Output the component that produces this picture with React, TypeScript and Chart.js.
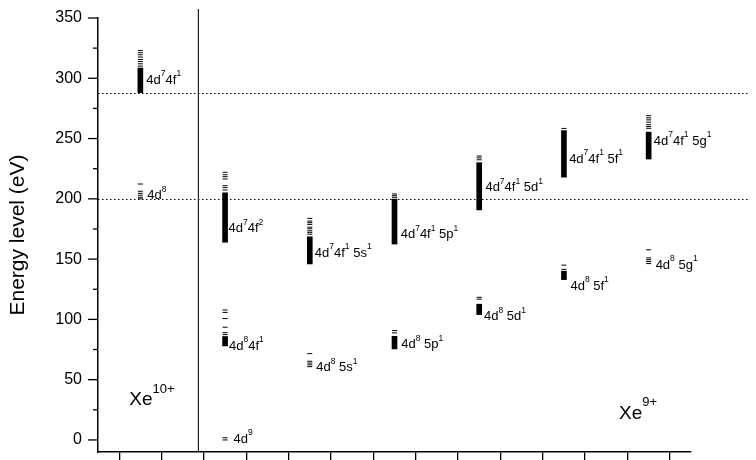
import React, { useEffect, useRef } from 'react';
import { Chart, registerables } from 'chart.js';

Chart.register(...registerables);

const FONT = '"Liberation Sans", Arial, sans-serif';

// x positions of the configuration columns
const COLUMNS = [1, 3, 5, 7, 9, 11, 13];
const SEPARATOR_X = 2.37;
const X_TICKS = [0, 1, 2, 3, 4, 5, 6, 7, 8, 9, 10, 11, 12, 13, 14];
const Y_TICKS = [0, 50, 100, 150, 200, 250, 300, 350];
const Y_MINOR_TICKS = [25, 75, 125, 175, 225, 275, 325];
// ionization limits (dotted lines), eV
const IONIZATION_LINES = [287.7, 199.6];

// ---- Xe10+ ----
const xe10_4d74f1_levels = [310.1, 312.0, 313.9, 315.6, 317.6, 319.5, 321.2, 323.0];
const xe10_4d74f1_band = [288, 308.5];
const xe10_4d8_levels = [200.0, 201.3, 203.0, 204.6, 206.3, 212.3];

// ---- Xe9+ ----
const xe9_4d9_levels = [0, 1.8];
const xe9_4d84f1_levels = [87.4, 89.0, 93.5, 100.7, 105.8, 107.8];
const xe9_4d84f1_band = [78, 85.8];
const xe9_4d74f2_levels = [207.3, 209.3, 210.9, 216.5, 218.4, 220.0, 222.0];
const xe9_4d74f2_band = [164, 205];
const xe9_4d8_5s_levels = [60.8, 62.3, 63.8, 65.3, 71.6];
const xe9_4d74f1_5s_levels = [170.7, 172.2, 173.5, 175.2, 176.5, 178.8, 180.2, 181.5, 183.8];
const xe9_4d74f1_5s_band = [146, 168.5];
const xe9_4d8_5p_levels = [88.8, 90.7];
const xe9_4d8_5p_band = [75.5, 86];
const xe9_4d74f1_5p_levels = [201.3, 202.6, 204.0];
const xe9_4d74f1_5p_band = [162.5, 199.8];
const xe9_4d8_5d_levels = [116.8, 118.3];
const xe9_4d8_5d_band = [104, 112.6];
const xe9_4d74f1_5d_levels = [232.4, 234.0, 235.5];
const xe9_4d74f1_5d_band = [190.8, 230];
const xe9_4d8_5f_levels = [141.5, 145.0];
const xe9_4d8_5f_band = [133, 140];
const xe9_4d74f1_5f_levels = [258.4];
const xe9_4d74f1_5f_band = [218, 256.6];
const xe9_4d8_5g_levels = [146.3, 148.0, 149.5, 151.0, 157.7];
const xe9_4d74f1_5g_levels = [258.5, 260.0, 261.5, 263.6, 265.5, 267.2, 269.0];
const xe9_4d74f1_5g_band = [233, 255.3];

type Seg = [string, string];
interface Group {
  col: number;
  levels: number[];
  band?: number[];
  label: Seg[];
  labelY: number;
  dx: number;
}

const GROUPS: Group[] = [
  { col: COLUMNS[0], levels: xe10_4d74f1_levels, band: xe10_4d74f1_band, label: [['4d', '7'], ['4f', '1']], labelY: 299.2, dx: 6 },
  { col: COLUMNS[0], levels: xe10_4d8_levels, label: [['4d', '8']], labelY: 203.4, dx: 7 },
  { col: COLUMNS[1], levels: xe9_4d9_levels, label: [['4d', '9']], labelY: 1.4, dx: 8.5 },
  { col: COLUMNS[1], levels: xe9_4d84f1_levels, band: xe9_4d84f1_band, label: [['4d', '8'], ['4f', '1']], labelY: 78.7, dx: 4 },
  { col: COLUMNS[1], levels: xe9_4d74f2_levels, band: xe9_4d74f2_band, label: [['4d', '7'], ['4f', '2']], labelY: 176.3, dx: 3.5 },
  { col: COLUMNS[2], levels: xe9_4d8_5s_levels, label: [['4d', '8'], [' 5s', '1']], labelY: 60.7, dx: 6.5 },
  { col: COLUMNS[2], levels: xe9_4d74f1_5s_levels, band: xe9_4d74f1_5s_band, label: [['4d', '7'], ['4f', '1'], [' 5s', '1']], labelY: 156, dx: 5 },
  { col: COLUMNS[3], levels: xe9_4d8_5p_levels, band: xe9_4d8_5p_band, label: [['4d', '8'], [' 5p', '1']], labelY: 79.8, dx: 6.8 },
  { col: COLUMNS[3], levels: xe9_4d74f1_5p_levels, band: xe9_4d74f1_5p_band, label: [['4d', '7'], ['4f', '1'], [' 5p', '1']], labelY: 171.4, dx: 6.2 },
  { col: COLUMNS[4], levels: xe9_4d8_5d_levels, band: xe9_4d8_5d_band, label: [['4d', '8'], [' 5d', '1']], labelY: 103.3, dx: 4.8 },
  { col: COLUMNS[4], levels: xe9_4d74f1_5d_levels, band: xe9_4d74f1_5d_band, label: [['4d', '7'], ['4f', '1'], [' 5d', '1']], labelY: 210.2, dx: 6.2 },
  { col: COLUMNS[5], levels: xe9_4d8_5f_levels, band: xe9_4d8_5f_band, label: [['4d', '8'], [' 5f', '1']], labelY: 128.5, dx: 6.5 },
  { col: COLUMNS[5], levels: xe9_4d74f1_5f_levels, band: xe9_4d74f1_5f_band, label: [['4d', '7'], ['4f', '1'], [' 5f', '1']], labelY: 233.8, dx: 5.2 },
  { col: COLUMNS[6], levels: xe9_4d8_5g_levels, label: [['4d', '8'], [' 5g', '1']], labelY: 145.7, dx: 7 },
  { col: COLUMNS[6], levels: xe9_4d74f1_5g_levels, band: xe9_4d74f1_5g_band, label: [['4d', '7'], ['4f', '1'], [' 5g', '1']], labelY: 248.7, dx: 5.2 },
];

const ION_LABELS = [
  { base: 'Xe', sup: '10+', x: 0.74, y: 34.5 },
  { base: 'Xe', sup: '9+', x: 12.3, y: 23 },
];

function drawSupText(ctx: CanvasRenderingContext2D, x: number, cy: number, segs: Seg[], size: number, supSize: number, supRaise: number) {
  let cx = x;
  const baseBaseline = cy + size * 0.358;
  const supBaseline = cy - supRaise;
  for (const [b, s] of segs) {
    ctx.font = `${size}px ${FONT}`;
    ctx.fillText(b, cx, baseBaseline);
    cx += ctx.measureText(b).width;
    ctx.font = `${supSize}px ${FONT}`;
    ctx.fillText(s, cx, supBaseline);
    cx += ctx.measureText(s).width;
  }
}

const decor = {
  id: 'decor',
  beforeDatasetsDraw(chart: any) {
    const { ctx, chartArea, scales } = chart;
    const x = scales.x;
    const y = scales.y;
    ctx.save();
    ctx.strokeStyle = '#000';
    ctx.lineWidth = 1.2;
    ctx.setLineDash([1.5, 2.5]);
    for (const v of IONIZATION_LINES) {
      const py = Math.round(y.getPixelForValue(v)) + 0.5;
      ctx.beginPath();
      ctx.moveTo(chartArea.left, py);
      ctx.lineTo(750, py);
      ctx.stroke();
    }
    ctx.setLineDash([]);
    const sx = x.getPixelForValue(SEPARATOR_X);
    ctx.strokeStyle = '#222';
    ctx.lineWidth = 1.2;
    ctx.beginPath();
    ctx.moveTo(sx, 9);
    ctx.lineTo(sx, chartArea.bottom);
    ctx.stroke();
    ctx.restore();
  },
  afterDraw(chart: any) {
    const { ctx, chartArea, scales } = chart;
    const x = scales.x;
    const y = scales.y;
    ctx.save();
    // y-axis tick marks
    ctx.strokeStyle = '#000';
    ctx.lineWidth = 1.3;
    const ax = chartArea.left;
    for (const v of Y_TICKS) {
      const py = y.getPixelForValue(v);
      ctx.beginPath();
      ctx.moveTo(ax - 10, py);
      ctx.lineTo(ax, py);
      ctx.stroke();
    }
    for (const v of Y_MINOR_TICKS) {
      const py = y.getPixelForValue(v);
      ctx.beginPath();
      ctx.moveTo(ax - 5, py);
      ctx.lineTo(ax, py);
      ctx.stroke();
    }
    // configuration labels
    ctx.fillStyle = '#000';
    ctx.textAlign = 'left';
    ctx.textBaseline = 'alphabetic';
    for (const g of GROUPS) {
      const px = x.getPixelForValue(g.col) + g.dx;
      const py = y.getPixelForValue(g.labelY);
      drawSupText(ctx, px, py, g.label, 13, 8.5, 2.8);
    }
    // ion labels
    for (const l of ION_LABELS) {
      const px = x.getPixelForValue(l.x);
      const py = y.getPixelForValue(l.y);
      drawSupText(ctx, px, py, [[l.base, l.sup]], 19, 13, 5.8);
    }
    ctx.restore();
  },
};

export default function App() {
  const ref = useRef<HTMLCanvasElement | null>(null);

  useEffect(() => {
    if (!ref.current) return;
    const bands: { x: number; y: number[] }[] = [];
    const levels: { x: number; y: number }[] = [];
    for (const g of GROUPS) {
      if (g.band) bands.push({ x: g.col, y: g.band });
      for (const v of g.levels) levels.push({ x: g.col, y: v });
    }
    const chart = new Chart(ref.current, {
      type: 'bar',
      data: {
        datasets: [
          {
            type: 'bar',
            label: 'bands',
            data: bands as any,
            backgroundColor: '#000',
            borderWidth: 0,
            barThickness: 5,
            grouped: false,
          } as any,
          {
            type: 'scatter',
            label: 'levels',
            data: levels as any,
            showLine: false,
            pointStyle: 'line',
            pointRadius: 2.5,
            pointHoverRadius: 2.5,
            pointBorderColor: '#000',
            pointBackgroundColor: '#000',
            pointBorderWidth: 1,
          } as any,
        ],
      },
      options: {
        responsive: false,
        devicePixelRatio: 1,
        animation: false,
        events: [],
        layout: { padding: { top: 18, right: 65, bottom: 0, left: 0 } },
        plugins: { legend: { display: false }, tooltip: { enabled: false } },
        scales: {
          x: {
            type: 'linear',
            min: 0,
            max: 14,
            offset: false,
            afterBuildTicks: (s: any) => {
              s.ticks = X_TICKS.map((v) => ({ value: v }));
            },
            afterFit: (s: any) => {
              s.height = 8;
              s.paddingLeft = 0;
              s.paddingRight = 0;
            },
            grid: { display: true, drawOnChartArea: false, drawTicks: true, tickLength: 8, color: '#000', lineWidth: 1.3 },
            border: { display: true, color: '#000', width: 1.5 },
            ticks: { display: false },
          },
          y: {
            type: 'linear',
            min: -10,
            max: 350,
            afterBuildTicks: (s: any) => {
              s.ticks = Y_TICKS.map((v) => ({ value: v }));
            },
            afterFit: (s: any) => {
              s.width = 98;
              s.paddingTop = 0;
              s.paddingBottom = 0;
            },
            grid: { display: false, drawTicks: false },
            border: { display: true, color: '#000', width: 1.5 },
            ticks: { color: '#000', font: { family: FONT, size: 16 }, padding: 16 },
            title: {
              display: true,
              text: 'Energy level (eV)',
              color: '#000',
              font: { family: FONT, size: 21 },
              padding: { top: 6, bottom: 0 },
            },
          },
        },
      } as any,
      plugins: [decor],
    });
    return () => chart.destroy();
  }, []);

  return (
    <div style={{ position: 'fixed', left: 0, top: 0, width: 756, height: 460, background: '#fff' }}>
      <canvas ref={ref} width={756} height={460} style={{ display: 'block', width: 756, height: 460 }} />
    </div>
  );
}
